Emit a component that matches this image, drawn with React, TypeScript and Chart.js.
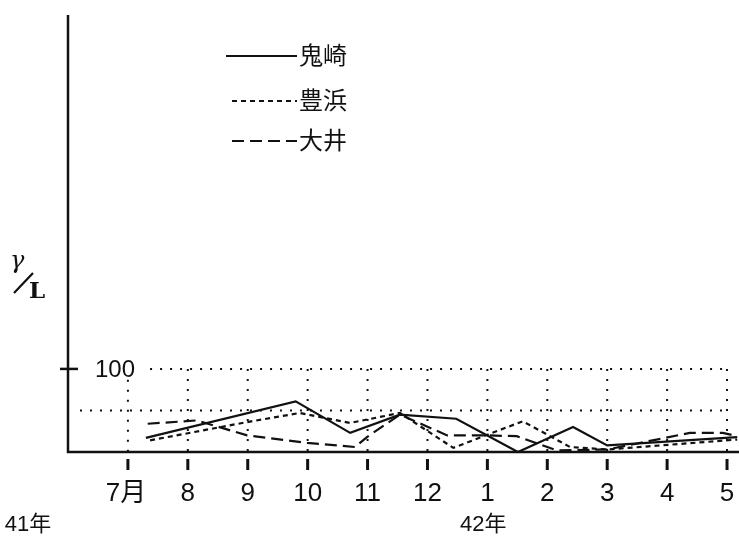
import React, { useEffect, useRef } from "react";
import { Chart, registerables } from "chart.js";

Chart.register(...registerables);

// month index: 0 = 7月 (昭和41年), 6 = 1月 (42年), 10 = 5月
const monthTicks = [0, 1, 2, 3, 4, 5, 6, 7, 8, 9, 10];
const monthLabels = ["7月", "8", "9", "10", "11", "12", "1", "2", "3", "4", "5"];
const yearLabels = [
  { m: -1.02, text: "41年" },
  { m: 6.58, text: "42年" },
];

const onizakiX = [0.3, 2.8, 3.71, 4.54, 5.48, 6.51, 7.43, 8.0, 10.17];
const onizakiY = [17, 61, 23, 45, 40, 0, 30, 8, 18];

const toyohamaX = [0.37, 1.99, 2.87, 3.71, 4.54, 5.43, 6.59, 7.38, 8.0, 10.17];
const toyohamaY = [14, 36, 47, 35, 47, 5, 37, 6, 3, 15];

const ooiX = [0.33, 1.15, 1.99, 2.99, 3.79, 3.99, 4.54, 5.33, 5.99, 6.49, 7.16, 8.0, 9.38, 9.93, 10.17];
const ooiY = [34, 38, 20, 11, 6, 18, 45, 20, 20, 19, 2, 3, 23, 23, 19];

const seriesNames = ["鬼崎", "豊浜", "大井"];

const INK = "#111";

const pts = (xs: number[], ys: number[]) => xs.map((x, i) => ({ x, y: ys[i] }));

const decorPlugin = {
  id: "decor",
  beforeDatasetsDraw(chart: any) {
    const { ctx, scales } = chart;
    const xs = scales.x;
    const ys = scales.y;
    const y0 = ys.getPixelForValue(0);
    const y100 = ys.getPixelForValue(100);
    const y50 = ys.getPixelForValue(50);
    ctx.save();
    ctx.strokeStyle = INK;
    ctx.lineWidth = 2;
    ctx.setLineDash([2, 8]);
    ctx.beginPath();
    ctx.moveTo(xs.getPixelForValue(0.37), y100);
    ctx.lineTo(xs.getPixelForValue(10), y100);
    ctx.moveTo(xs.getPixelForValue(-0.8), y50);
    ctx.lineTo(xs.getPixelForValue(10), y50);
    ctx.stroke();
    ctx.beginPath();
    monthTicks.forEach((m, i) => {
      const px = xs.getPixelForValue(m);
      const top = i === 0 ? ys.getPixelForValue(87) : y100;
      ctx.moveTo(px, top);
      ctx.lineTo(px, y0);
    });
    ctx.stroke();
    ctx.restore();
  },
  afterDraw(chart: any) {
    const { ctx, scales, chartArea } = chart;
    const xs = scales.x;
    const ys = scales.y;
    const y0 = ys.getPixelForValue(0);
    const y100 = ys.getPixelForValue(100);
    const ax = chartArea.left;
    ctx.save();
    ctx.strokeStyle = INK;
    ctx.fillStyle = INK;
    ctx.setLineDash([]);
    ctx.lineWidth = 2.5;
    ctx.beginPath();
    ctx.moveTo(ax, chartArea.top);
    ctx.lineTo(ax, y0);
    ctx.lineTo(chartArea.right, y0);
    ctx.stroke();
    ctx.beginPath();
    ctx.moveTo(ax - 8, y100);
    ctx.lineTo(ax + 10, y100);
    ctx.stroke();
    ctx.font = "24px 'Liberation Sans', sans-serif";
    ctx.textBaseline = "middle";
    ctx.textAlign = "left";
    ctx.fillText("100", ax + 27, y100 + 1);
    ctx.lineWidth = 3;
    monthTicks.forEach((m, i) => {
      const px = xs.getPixelForValue(m);
      ctx.beginPath();
      ctx.moveTo(px, y0 + 7);
      ctx.lineTo(px, y0 + 18);
      ctx.stroke();
      ctx.textAlign = "center";
      ctx.font = "26px 'Liberation Sans', 'Noto Sans CJK JP', sans-serif";
      const off = i === 0 ? -2 : 0;
      ctx.fillText(monthLabels[i], px + off, y0 + 42);
    });
    ctx.textAlign = "left";
    ctx.font = "22px 'Liberation Sans', 'Noto Sans CJK JP', sans-serif";
    yearLabels.forEach((yl) => {
      ctx.fillText(yl.text, xs.getPixelForValue(yl.m) - 62, y0 + 73);
    });
    // unit label γ/L
    ctx.font = "italic 24px 'DejaVu Serif', serif";
    ctx.textAlign = "left";
    ctx.fillText("γ", 10, 262);
    ctx.lineWidth = 2.2;
    ctx.beginPath();
    ctx.moveTo(14, 293);
    ctx.lineTo(33, 273);
    ctx.stroke();
    ctx.font = "bold 23px 'DejaVu Serif', serif";
    ctx.fillText("L", 29, 292);
    // legend
    const legendY = [55, 100, 140];
    const dashes = [[], [5, 4], [12, 6]];
    ctx.font = "24px 'Noto Sans CJK JP', sans-serif";
    seriesNames.forEach((n, i) => {
      ctx.lineWidth = 2;
      ctx.setLineDash(dashes[i]);
      ctx.beginPath();
      ctx.moveTo(i === 0 ? 226 : 232, legendY[i] + 1);
      ctx.lineTo(297, legendY[i] + 1);
      ctx.stroke();
      ctx.setLineDash([]);
      ctx.textAlign = "left";
      ctx.fillText(n, 299, legendY[i]);
    });
    ctx.restore();
  },
};

export default function App() {
  const ref = useRef<HTMLCanvasElement | null>(null);
  useEffect(() => {
    document.body.style.margin = "0";
    document.body.style.background = "#fff";
    const canvas = ref.current;
    if (!canvas) return;
    const chart = new Chart(canvas, {
      type: "line",
      data: {
        datasets: [
          {
            label: seriesNames[0],
            data: pts(onizakiX, onizakiY),
            borderColor: INK,
            borderWidth: 2.2,
            pointRadius: 0,
            tension: 0,
            clip: false as any,
          },
          {
            label: seriesNames[1],
            data: pts(toyohamaX, toyohamaY),
            borderColor: INK,
            borderWidth: 2.2,
            borderDash: [5, 4],
            pointRadius: 0,
            tension: 0,
            clip: false as any,
          },
          {
            label: seriesNames[2],
            data: pts(ooiX, ooiY),
            borderColor: INK,
            borderWidth: 2.2,
            borderDash: [12, 6],
            pointRadius: 0,
            tension: 0,
            clip: false as any,
          },
        ],
      },
      options: {
        animation: false,
        responsive: false,
        maintainAspectRatio: false,
        layout: { padding: { left: 68, right: 0, top: 15, bottom: 88 } },
        plugins: { legend: { display: false }, tooltip: { enabled: false } },
        scales: {
          x: { type: "linear", min: -1, max: 10.2, display: false },
          y: { type: "linear", min: 0, max: 526, display: false },
        },
      },
      plugins: [decorPlugin],
    });
    return () => chart.destroy();
  }, []);
  return (
    <div style={{ width: 739, height: 540, background: "#fff" }}>
      <canvas ref={ref} width={739} height={540} style={{ display: "block" }} />
    </div>
  );
}
